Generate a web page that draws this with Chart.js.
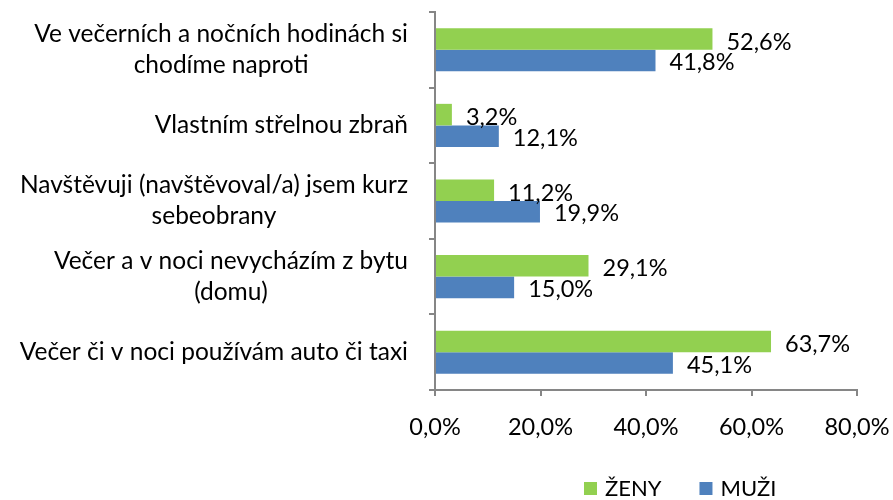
<!DOCTYPE html>
<html>
<head>
<meta charset="utf-8">
<script src="https://cdn.jsdelivr.net/npm/chart.js@4"></script>
<style>
  body { margin: 0; background: #fff; }
  #wrap { width: 893px; height: 500px; }
</style>
</head>
<body>
<div id="wrap"><canvas id="myChart"></canvas></div>
<script>
// data
var categories = [
    ['Ve večerních a nočních hodinách si', 'chodíme naproti'],
    ['Vlastním střelnou zbraň'],
    ['Navštěvuji (navštěvoval/a) jsem kurz', 'sebeobrany'],
    ['Večer a v noci nevycházím z bytu', '(domu)'],
    ['Večer či v noci používám auto či taxi']
];
var seriesNames = ['ŽENY', 'MUŽI'];
var zeny = [52.6, 3.2, 11.2, 29.1, 63.7];
var muzi = [41.8, 12.1, 19.9, 15.0, 45.1];
var xTicks = [0, 20, 40, 60, 80];

var FONT = 'Lato';
var green = '#92D050';
var blue = '#4F81BD';
var axisGray = '#868686';

function pct(v) {
    return v.toFixed(1).replace('.', ',') + '%';
}

// category labels: block right aligned, lines centered within block (like excel)
const catLabels = {
    id: 'catLabels',
    afterDraw(chart) {
        let ctx = chart.ctx;
        let y = chart.scales.y;
        let rightX = chart.chartArea.left - 27;
        ctx.save();
        ctx.font = '24.5px ' + FONT;
        ctx.fillStyle = '#000';
        ctx.textAlign = 'center';
        ctx.textBaseline = 'middle';
        categories.forEach((lines, i) => {
            let cy = y.getPixelForValue(i);
            let w = Math.max(...lines.map(l => ctx.measureText(l).width));
            let cx = rightX - w / 2;
            lines.forEach((l, j) => {
                ctx.fillText(l, cx, cy + (j - (lines.length - 1) / 2) * 31);
            });
        });
        ctx.restore();
    }
};

// value labels at the end of each bar
const valueLabels = {
    id: 'valueLabels',
    afterDatasetsDraw(chart) {
        let ctx = chart.ctx;
        ctx.save();
        ctx.font = '23.5px ' + FONT;
        ctx.fillStyle = '#000';
        ctx.textAlign = 'left';
        ctx.textBaseline = 'middle';
        chart.data.datasets.forEach((ds, di) => {
            let meta = chart.getDatasetMeta(di);
            meta.data.forEach((bar, i) => {
                let dy = di == 0 ? 3 : 2;
                ctx.fillText(pct(ds.data[i]), bar.x + 14, bar.y + dy);
            });
        });
        ctx.restore();
    }
};

// legend at bottom right
const bottomLegend = {
    id: 'bottomLegend',
    afterDraw(chart) {
        let ctx = chart.ctx;
        ctx.save();
        ctx.font = '22px ' + FONT;
        ctx.textAlign = 'left';
        ctx.textBaseline = 'middle';
        let x = 584;
        let y = 488;
        chart.data.datasets.forEach((ds) => {
            ctx.fillStyle = ds.backgroundColor;
            ctx.fillRect(x, y - 6, 13, 13);
            ctx.fillStyle = '#000';
            ctx.fillText(ds.label, x + 21, y + 1);
            x += 21 + ctx.measureText(ds.label).width + 38;
        });
        ctx.restore();
    }
};

let ctx = document.getElementById('myChart');
new Chart(ctx, {
    type: 'bar',
    data: {
        labels: categories,
        datasets: [{
            label: seriesNames[0],
            data: zeny,
            backgroundColor: green,
            categoryPercentage: 0.57,
            barPercentage: 1
        }, {
            label: seriesNames[1],
            data: muzi,
            backgroundColor: blue,
            categoryPercentage: 0.57,
            barPercentage: 1
        }]
    },
    options: {
        indexAxis: 'y',
        responsive: true,
        maintainAspectRatio: false,
        animation: false,
        layout: { padding: { top: 12, right: 36, left: 0, bottom: 0 } },
        plugins: {
            legend: { display: false },
            tooltip: { enabled: false }
        },
        scales: {
            x: {
                min: 0,
                max: 80,
                afterBuildTicks: (scale) => { scale.ticks = xTicks.map(v => ({ value: v })); },
                afterFit: (scale) => {
                    scale.height = 110;
                    scale.paddingLeft = 0;
                    scale.paddingRight = 0;
                },
                border: { color: axisGray, width: 2 },
                grid: { drawOnChartArea: false, drawTicks: true, tickLength: 6, color: axisGray, lineWidth: 2 },
                ticks: {
                    color: '#000',
                    font: { family: FONT, size: 23.5 },
                    padding: 17,
                    maxRotation: 0,
                    callback: (v) => pct(v)
                }
            },
            y: {
                afterFit: (scale) => { scale.width = 435; },
                border: { color: axisGray, width: 2 },
                grid: { drawOnChartArea: false, drawTicks: true, tickLength: 6, color: axisGray, lineWidth: 2, offset: true },
                ticks: { display: false }
            }
        }
    },
    plugins: [catLabels, valueLabels, bottomLegend]
});
</script>
</body>
</html>
